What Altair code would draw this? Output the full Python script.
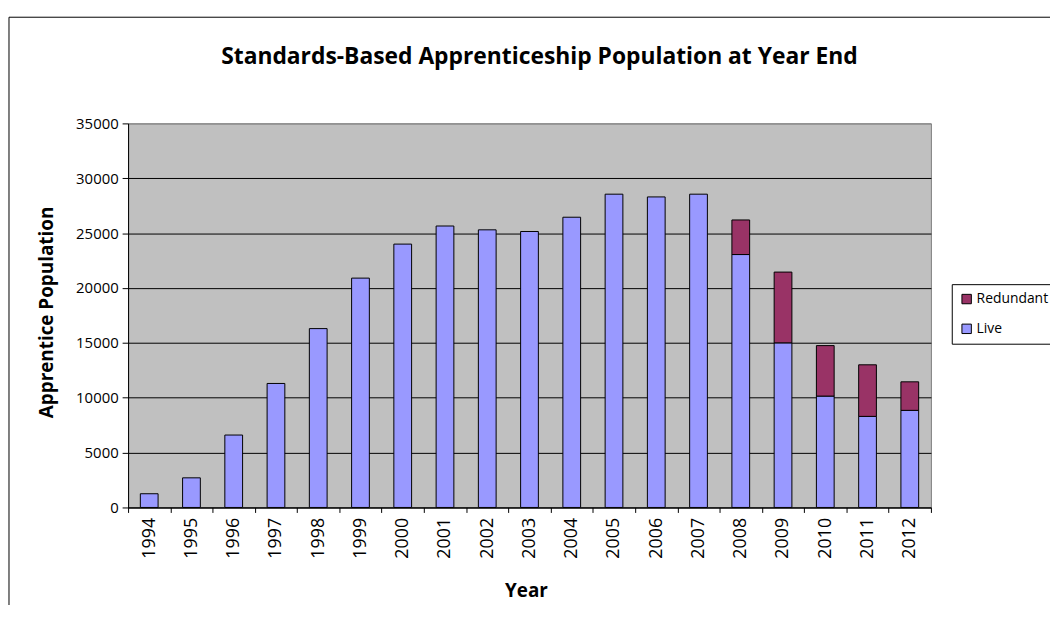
import altair as alt
import pandas as pd

years = ["1994", "1995", "1996", "1997", "1998", "1999", "2000", "2001", "2002", "2003",
         "2004", "2005", "2006", "2007", "2008", "2009", "2010", "2011", "2012"]
live = [1250, 2700, 6600, 11300, 16300, 20900, 24000, 25650, 25300, 25150,
        26450, 28550, 28300, 28550, 23050, 15000, 10150, 8300, 8850]
redundant = [0, 0, 0, 0, 0, 0, 0, 0, 0, 0,
             0, 0, 0, 0, 3150, 6450, 4600, 4700, 2600]
series = ["Redundant", "Live"]
colors = ["#993366", "#9999FF"]
y_ticks = [0, 5000, 10000, 15000, 20000, 25000, 30000, 35000]

rows = []
for y, l, r in zip(years, live, redundant):
    rows.append({"Year": y, "Series": "Live", "Value": l, "ord": 0})
    if r > 0:
        rows.append({"Year": y, "Series": "Redundant", "Value": r, "ord": 1})
df = pd.DataFrame(rows)

FONT = "Open Sans"

bars = alt.Chart(df).mark_bar(
    width=alt.RelativeBandSize(0.42), stroke="black", strokeWidth=1
).encode(
    x=alt.X("Year:N", sort=years,
            scale=alt.Scale(paddingInner=0, paddingOuter=0),
            axis=alt.Axis(title="Year", tickBand="extent", labelAngle=270,
                          labelAlign="right", labelBaseline="middle",
                          labelFont=FONT, labelFontSize=18, labelColor="black",
                          labelPadding=5, tickSize=5, tickColor="black",
                          domainColor="black", grid=False,
                          titleFont=FONT, titleFontSize=19, titleFontWeight="bold",
                          titleColor="black", titleX=401, titleY=84,
                          titleBaseline="middle", titleAlign="center")),
    y=alt.Y("Value:Q", stack="zero",
            scale=alt.Scale(domain=[0, 35000], nice=False),
            axis=alt.Axis(title="Apprentice Population", values=y_ticks, format="d",
                          labelFont=FONT, labelFontSize=15, labelColor="black",
                          labelPadding=4, tickSize=6, tickColor="black",
                          domainColor="black",
                          gridColor={"condition": {"test": "datum.value >= 35000", "value": "#808080"},
                                     "value": "black"},
                          gridOpacity=1, gridWidth=1,
                          titleFont=FONT, titleFontSize=19, titleFontWeight="bold",
                          titleColor="black", titleAngle=270, titleX=-82, titleY=190,
                          titleAlign="center", titleBaseline="middle")),
    color=alt.Color("Series:N",
                    scale=alt.Scale(domain=series, range=colors),
                    legend=alt.Legend(title=None, orient="none", legendX=830, legendY=162,
                                      strokeColor="black", fillColor="white", padding=8,
                                      rowPadding=16, symbolType="square", symbolSize=90,
                                      symbolStrokeColor="black", symbolStrokeWidth=1,
                                      labelFont=FONT, labelFontSize=14, labelColor="black",
                                      labelOffset=3, cornerRadius=0)),
    order=alt.Order("ord:Q", sort="ascending"),
)

frame = alt.Chart(alt.Data(values=[{"a": 1}])).mark_rect(
    fill="transparent", stroke="black", strokeWidth=1
).encode(
    x=alt.value(-120), x2=alt.value(2000), y=alt.value(-107), y2=alt.value(2000)
)

chart = alt.layer(frame, bars).properties(
    width=809, height=387,
    autosize=alt.AutoSizeParams(type="none"),
    padding={"left": 121, "top": 114, "right": 120, "bottom": 96},
    background="white",
    title=alt.TitleParams("Standards-Based Apprenticeship Population at Year End",
                          font=FONT, fontSize=23, fontWeight="bold", color="black",
                          anchor="middle", baseline="bottom", offset=-76, dx=10),
).configure_view(fill="#C0C0C0", stroke="#808080", strokeWidth=1)

chart.save("out.html", embed_options={"renderer": "svg", "actions": False})
